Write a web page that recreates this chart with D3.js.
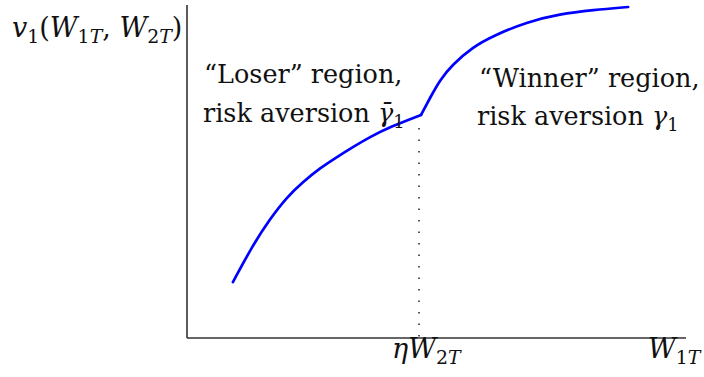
<!DOCTYPE html>
<html>
<head>
<meta charset="utf-8">
<script src="https://cdn.jsdelivr.net/npm/d3@7"></script>
<style>
  html, body { margin: 0; padding: 0; background: #fff; }
  svg { display: block; }
</style>
</head>
<body>
<svg id="chart"></svg>
<script>
// wealth W1T (arbitrary units) and value v1 for the two regions
const loserX = [0.92, 1.32, 1.66, 2.0, 2.32, 2.67, 3.01, 3.33, 3.67, 4.07, 4.69];
const loserY = [1.68, 2.79, 3.57, 4.23, 4.68, 5.11, 5.44, 5.74, 6.04, 6.34, 6.7];
const winnerX = [4.69, 4.87, 5.07, 5.31, 5.73, 6.13, 6.81, 7.47, 8.14, 8.84];
const winnerY = [6.7, 7.21, 7.75, 8.2, 8.74, 9.07, 9.49, 9.73, 9.85, 9.94];
const kinkX = 4.65; // eta * W2T

const width = 704;
const height = 377;
const margin = { top: 5, right: 18, bottom: 39, left: 187 };
const serif = "DejaVu Serif";

const svg = d3.select("#chart").attr("width", width).attr("height", height);

const x = d3.scaleLinear().domain([0, 10]).range([margin.left, width - margin.right]);
const y = d3.scaleLinear().domain([0, 10]).range([height - margin.bottom, margin.top]);

// axes (no ticks, just the two lines)
svg.append("line")
  .attr("x1", x(0)).attr("x2", x(0))
  .attr("y1", y(0)).attr("y2", y(10))
  .attr("stroke", "#333").attr("stroke-width", 1.6);
svg.append("line")
  .attr("x1", x(0)).attr("x2", x(10))
  .attr("y1", y(0)).attr("y2", y(0))
  .attr("stroke", "#333").attr("stroke-width", 1.6);

// dotted line below the kink
svg.append("line")
  .attr("x1", x(kinkX)).attr("x2", x(kinkX))
  .attr("y1", y(loserY[loserY.length - 1]) + 13).attr("y2", y(0))
  .attr("stroke", "#222").attr("stroke-width", 1.5)
  .attr("stroke-dasharray", "1.5,10");

const line = d3.line()
  .x((d) => x(d[0]))
  .y((d) => y(d[1]))
  .curve(d3.curveBasis);

[[loserX, loserY], [winnerX, winnerY]].forEach(([xs, ys]) => {
  svg.append("path")
    .datum(d3.zip(xs, ys))
    .attr("d", line)
    .attr("fill", "none")
    .attr("stroke", "#0000ff")
    .attr("stroke-width", 2.7)
    .attr("stroke-linecap", "round")
    .attr("stroke-linejoin", "round");
});

// math-ish text with subscripts: parts = [text, style]
// styles: "r" roman, "i" italic, "s" subscript roman, "si" subscript italic
function mathText(px, py, parts, size) {
  const t = svg.append("text")
    .attr("x", px).attr("y", py)
    .style("font-family", serif)
    .attr("font-size", size)
    .attr("fill", "#111");
  let cur = 0;
  parts.forEach(([str, st]) => {
    const sub = st === "s" || st === "si";
    const off = sub ? size * 0.22 : 0;
    t.append("tspan")
      .attr("dy", off - cur)
      .attr("font-size", sub ? size * 0.7 : size)
      .attr("font-style", st === "i" || st === "si" ? "italic" : "normal")
      .text(str);
    cur = off;
  });
  return t;
}

const fs = 25.5;
const ms = 27;

mathText(12, 37, [["v", "i"], ["1", "s"], ["(", "r"], ["W", "i"], ["1", "s"], ["T", "si"],
  [", ", "r"], ["W", "i"], ["2", "s"], ["T", "si"], [")", "r"]], ms);

mathText(204, 83, [["\u201CLoser\u201D region,", "r"]], fs);
mathText(203, 122, [["risk aversion ", "r"], ["\u03B3\u0304", "i"], ["1", "s"]], fs);

mathText(479, 87, [["\u201CWinner\u201D region,", "r"]], fs);
mathText(477, 125, [["risk aversion ", "r"], ["\u03B3", "i"], ["1", "s"]], fs);

mathText(392, 358, [["\u03B7", "i"], ["W", "i"], ["2", "s"], ["T", "si"]], ms);
mathText(648, 358, [["W", "i"], ["1", "s"], ["T", "si"]], ms);
</script>
</body>
</html>
